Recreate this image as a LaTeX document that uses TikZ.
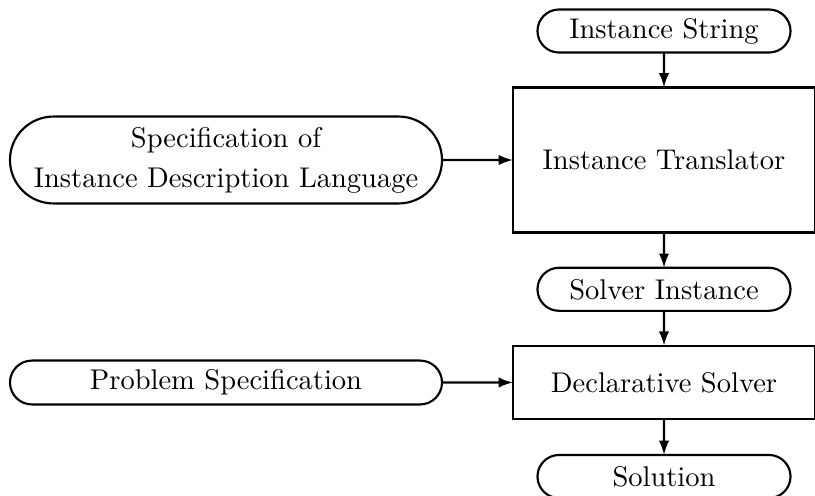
\documentclass[tikz,border=0pt]{standalone}
\usetikzlibrary{shapes.misc,arrows.meta}
\begin{document}
\begin{tikzpicture}[x=0.3509pt,y=-0.3509pt,
  every node/.style={inner sep=0pt,outer sep=0pt},
  terminal/.style={draw,line width=0.75pt,rounded rectangle,minimum width=88.8pt,minimum height=15.1pt},
  wideterm/.style={terminal,minimum width=151.6pt},
  process/.style={draw,line width=0.75pt,rectangle,minimum width=106pt},
  flow/.style={line width=0.75pt,-{Latex[length=5pt,width=3.6pt]}}]
  \useasboundingbox (0,0) rectangle (815,495);
  % right-hand column: data flowing through the tools
  \node[terminal] (is) at (664,31) {Instance String};
  \node[process,minimum height=50.9pt] (it) at (664,160) {Instance Translator};
  \node[terminal] (si) at (664,289.3) {Solver Instance};
  \node[process,minimum height=25.8pt] (ds) at (664,382.5) {Declarative Solver};
  \node[terminal] (sol) at (664,476.5) {Solution};
  % left-hand column: specifications
  \node[wideterm,minimum height=30.5pt,align=center] (spec) at (226,160)
    {Specification of\\[2pt]Instance Description Language};
  \node[wideterm,minimum height=15.4pt] (ps) at (226,382.5) {Problem Specification};
  % connectors
  \draw[flow] (is) -- (it);
  \draw[flow] (spec) -- (it);
  \draw[flow] (it) -- (si);
  \draw[flow] (si) -- (ds);
  \draw[flow] (ps) -- (ds);
  \draw[flow] (ds) -- (sol);
\end{tikzpicture}
\end{document}
